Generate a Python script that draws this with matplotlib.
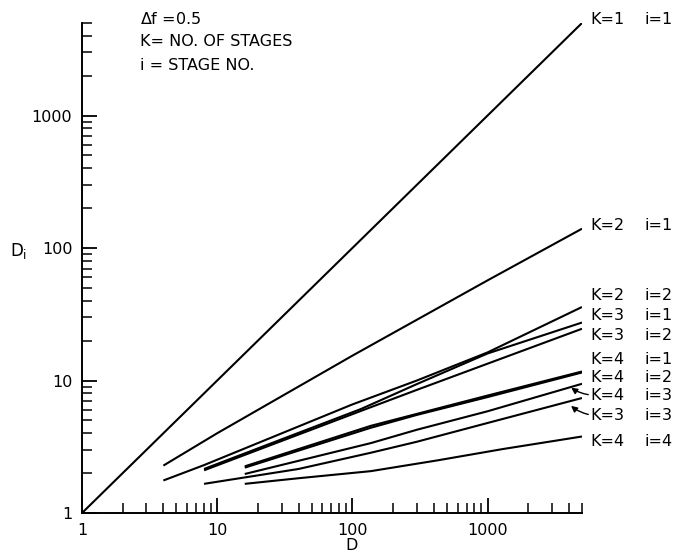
import numpy as np
import matplotlib
matplotlib.use('Agg')
import matplotlib.pyplot as plt
from matplotlib.ticker import LogLocator, FuncFormatter, NullFormatter

# overall D vs. stage D_i (delta f = 0.5)
d_k1_i1 = [1, 5000]
di_k1_i1 = [1, 5000]

d_k2_i1 = [4, 10, 100, 1000, 5000]
di_k2_i1 = [2.28, 4.0, 15.4, 57.0, 140.0]

d_k2_i2 = [4, 8, 100, 300, 1000, 5000]
di_k2_i2 = [1.76, 2.3, 6.6, 10.0, 16.3, 35.9]

d_k3_i1 = [8, 116, 300, 1000, 5000]
di_k3_i1 = [2.15, 6.1, 9.4, 16.0, 27.4]

d_k3_i2 = [8, 116, 300, 1000, 5000]
di_k3_i2 = [2.1, 5.9, 8.5, 13.4, 24.6]

d_k3_i3 = [8, 40, 137, 300, 1000, 5000]
di_k3_i3 = [1.66, 2.15, 2.85, 3.45, 4.78, 7.38]

d_k4_i1 = [16, 137, 300, 1000, 5000]
di_k4_i1 = [2.25, 4.55, 5.6, 7.7, 11.7]

d_k4_i2 = [16, 137, 300, 1000, 5000]
di_k4_i2 = [2.2, 4.4, 5.5, 7.5, 11.5]

d_k4_i3 = [16, 137, 300, 1000, 5000]
di_k4_i3 = [1.97, 3.37, 4.25, 5.86, 9.45]

d_k4_i4 = [16, 40, 137, 430, 1300, 5000]
di_k4_i4 = [1.66, 1.83, 2.07, 2.5, 3.04, 3.78]

series = [
    (d_k1_i1, di_k1_i1),
    (d_k2_i1, di_k2_i1),
    (d_k2_i2, di_k2_i2),
    (d_k3_i1, di_k3_i1),
    (d_k3_i2, di_k3_i2),
    (d_k3_i3, di_k3_i3),
    (d_k4_i1, di_k4_i1),
    (d_k4_i2, di_k4_i2),
    (d_k4_i3, di_k4_i3),
    (d_k4_i4, di_k4_i4),
]

# curve labels on the right, top to bottom
label_k = ['K=1', 'K=2', 'K=2', 'K=3', 'K=3', 'K=4', 'K=4', 'K=4', 'K=3', 'K=4']
label_i = ['i=1', 'i=1', 'i=2', 'i=1', 'i=2', 'i=1', 'i=2', 'i=3', 'i=3', 'i=4']
label_y_px = [20, 225, 296, 316, 335, 359, 377, 396, 416, 442]

W, H = 678, 554
FS = 11.5


def fx(px):
    return px / W


def fy(py):
    return 1 - py / H


fig = plt.figure(figsize=(W / 100, H / 100), dpi=100)
ax = fig.add_axes([fx(82), fy(513), fx(582) - fx(82), fy(23) - fy(513)])

for d, di in series:
    ax.plot(d, di, color='black', linewidth=1.5, solid_capstyle='butt')

ax.set_xscale('log')
ax.set_yscale('log')
ax.set_xlim(1, 5000)
ax.set_ylim(1, 5000)

for spine in ['top', 'right']:
    ax.spines[spine].set_visible(False)
for spine in ['left', 'bottom']:
    ax.spines[spine].set_linewidth(1.4)

fmt = FuncFormatter(lambda v, pos: f'{v:g}')
for axis in [ax.xaxis, ax.yaxis]:
    axis.set_major_locator(LogLocator(base=10, numticks=10))
    axis.set_minor_locator(LogLocator(base=10, subs=np.arange(2, 10), numticks=20))
    axis.set_major_formatter(fmt)
    axis.set_minor_formatter(NullFormatter())

ax.tick_params(which='major', direction='in', length=11, width=1.3, labelsize=FS, pad=7)
ax.tick_params(which='minor', direction='in', length=7, width=1.1)

ax.set_xlabel('D', fontsize=FS, labelpad=2)
ax.xaxis.set_label_coords(0.54, -0.05)
fig.text(fx(10), fy(251), 'D$_\\mathregular{i}$', fontsize=12, va='center', ha='left')

# notes in the upper left
fig.text(fx(140), fy(19), '$\\Delta$f =0.5', fontsize=FS, va='center', ha='left')
fig.text(fx(140), fy(42), 'K= NO. OF STAGES', fontsize=FS, va='center', ha='left')
fig.text(fx(140), fy(65), 'i = STAGE NO.', fontsize=FS, va='center', ha='left')

for k, i, py in zip(label_k, label_i, label_y_px):
    fig.text(fx(590), fy(py), k, fontsize=FS, va='center', ha='left')
    fig.text(fx(645), fy(py), i, fontsize=FS, va='center', ha='left')

# little arrows pointing at the two crowded curve ends
ax.annotate('', xy=(fx(569), fy(386)), xycoords='figure fraction',
            xytext=(fx(591), fy(395)), textcoords='figure fraction',
            arrowprops=dict(arrowstyle='-|>', color='black', lw=1.0,
                            mutation_scale=9, connectionstyle='arc3,rad=-0.15'))
ax.annotate('', xy=(fx(569), fy(404)), xycoords='figure fraction',
            xytext=(fx(591), fy(415)), textcoords='figure fraction',
            arrowprops=dict(arrowstyle='-|>', color='black', lw=1.0,
                            mutation_scale=9, connectionstyle='arc3,rad=-0.15'))

fig.savefig('out.png', dpi=100)
